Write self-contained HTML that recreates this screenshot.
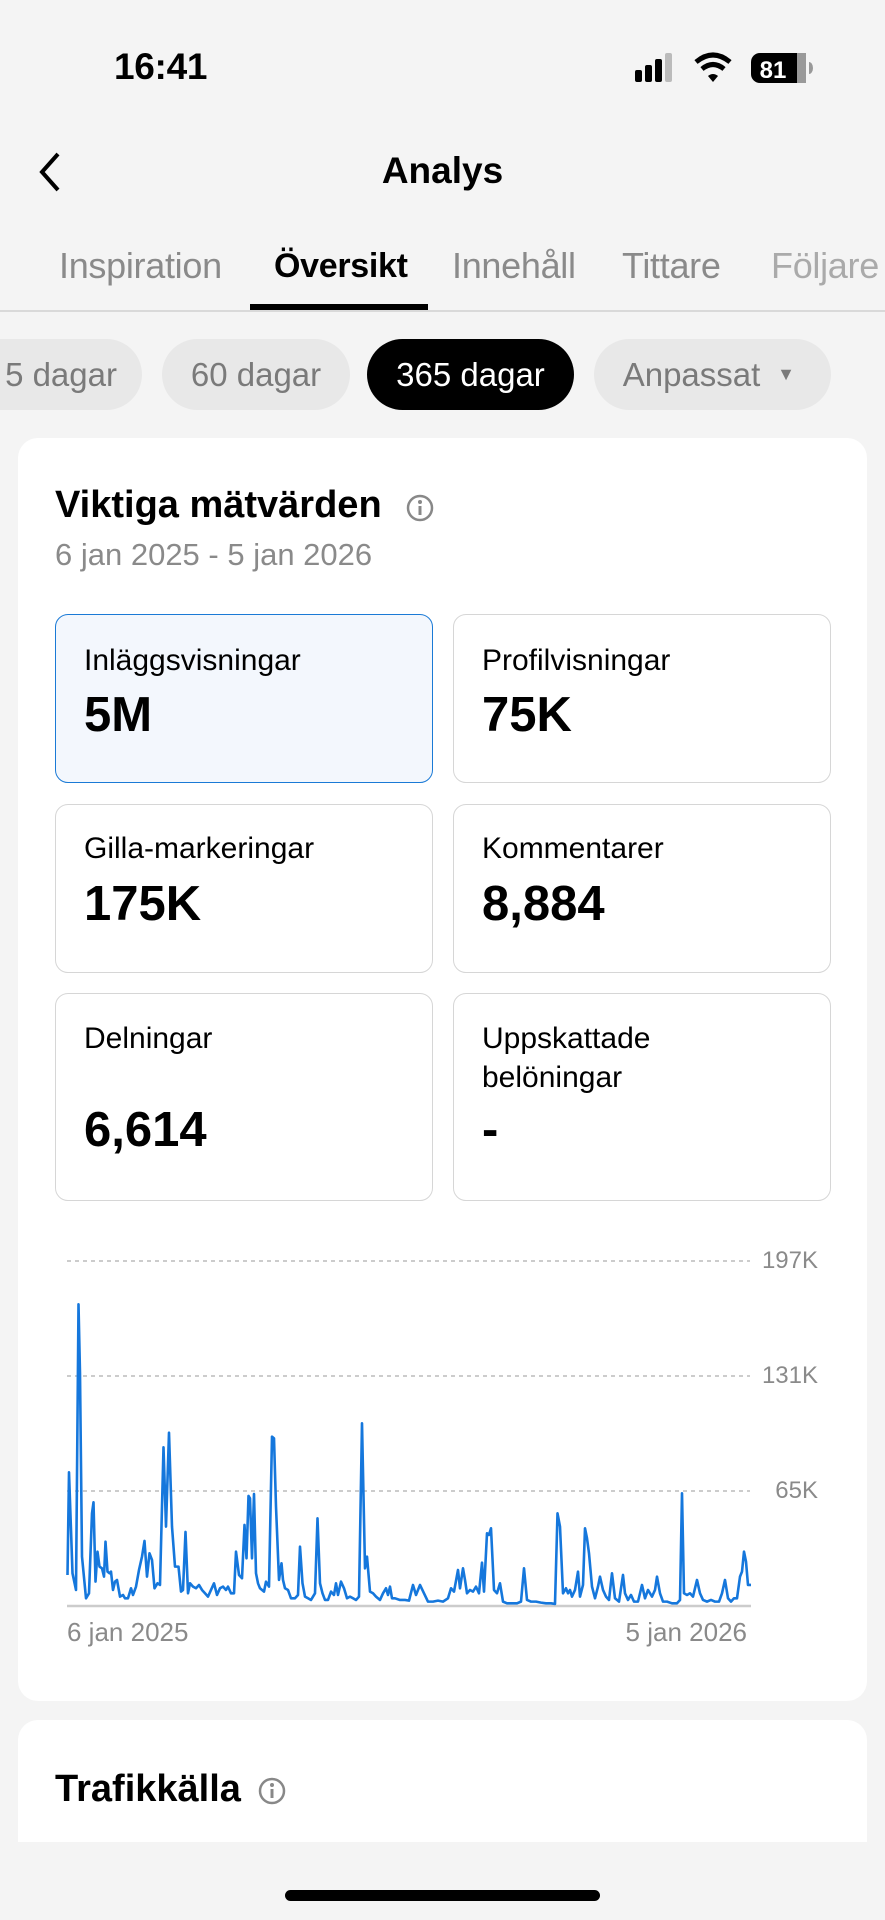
<!DOCTYPE html>
<html><head><meta charset="utf-8"><style>
*{margin:0;padding:0;box-sizing:border-box}
body{width:885px;height:1920px;background:#f4f4f4;font-family:"Liberation Sans",sans-serif;position:relative;overflow:hidden;color:#000}
.a{position:absolute;white-space:nowrap}
.tab{position:absolute;top:246px;font-size:36px;color:#8a8a8a;line-height:40px;letter-spacing:-0.3px}
.pill{position:absolute;top:339px;height:71px;border-radius:36px;background:#e8e8e8;color:#7a7a7a;font-size:33px;line-height:71px;text-align:center}
.box{position:absolute;width:378px;border:1.5px solid #d6d6d6;border-radius:13px;background:#fff}
.lab{position:absolute;left:28px;font-size:30px;line-height:36px}
.val{position:absolute;left:28px;font-size:49px;font-weight:bold;line-height:54px}
.yl{position:absolute;font-size:24px;color:#8a8a8a;right:67px}
</style></head><body>
<div class="a" style="left:114px;top:46px;font-size:37px;font-weight:bold;letter-spacing:-0.3px">16:41</div>
<svg class="a" style="left:630px;top:50px" width="190" height="36">
<rect x="5" y="20" width="7" height="12" rx="2"/><rect x="15" y="15" width="7" height="17" rx="2"/><rect x="25" y="9" width="7" height="23" rx="2"/><rect x="35" y="3" width="7" height="29" rx="2" fill="#bbb"/>
<path d="M66 12 Q83 -2 100 12" stroke="#000" stroke-width="5" fill="none"/><path d="M72 19 Q83 10 94 19" stroke="#000" stroke-width="5" fill="none"/><path d="M78 26 L83 32 L88 26 Q83 22 78 26Z"/>
<rect x="121" y="3" width="55" height="30" rx="9"/><rect x="167" y="3" width="9" height="30" fill="#999"/><path d="M179 12 a4 6 0 0 1 0 12z" fill="#999"/>
<text x="143" y="28" font-size="24" font-weight="bold" fill="#fff" text-anchor="middle" font-family="Liberation Sans">81</text></svg>
<svg class="a" style="left:34px;top:150px" width="30" height="44"><path d="M24 4 L8 22 L24 40" stroke="#000" stroke-width="4" fill="none"/></svg>
<div class="a" style="left:0;width:885px;text-align:center;top:150px;font-size:37px;font-weight:bold">Analys</div>
<div class="tab" style="left:59px">Inspiration</div>
<div class="tab" style="left:274px;color:#000;font-weight:bold;font-size:34px">Översikt</div>
<div class="tab" style="left:452px">Innehåll</div>
<div class="tab" style="left:622px">Tittare</div>
<div class="tab" style="left:771px;color:#aaa">Följare</div>
<div class="a" style="left:250px;top:304px;width:178px;height:6px;background:#000"></div>
<div class="a" style="left:0;top:310px;width:885px;height:1.5px;background:#d9d9d9"></div>
<div class="pill" style="left:-60px;width:202px;text-align:right;padding-right:25px">5 dagar</div>
<div class="pill" style="left:162px;width:188px">60 dagar</div>
<div class="pill" style="left:367px;width:207px;background:#000;color:#fff">365 dagar</div>
<div class="pill" style="left:594px;width:237px;padding-right:42px">Anpassat<span style="position:absolute;right:36px;font-size:18px">▼</span></div>
<div class="a" style="left:18px;top:438px;width:849px;height:1263px;background:#fff;border-radius:20px"></div>
<div class="a" style="left:55px;top:484px;font-size:38px;font-weight:bold">Viktiga mätvärden</div>
<svg class="a" style="left:405px;top:493px" width="30" height="30"><circle cx="15" cy="15" r="12" stroke="#888" stroke-width="2.5" fill="none"/><rect x="13.5" y="13" width="3" height="9" fill="#888"/><circle cx="15" cy="9" r="2" fill="#888"/></svg>
<div class="a" style="left:55px;top:537px;font-size:31px;color:#8a8a8a">6 jan 2025 - 5 jan 2026</div>
<div class="box" style="left:55px;top:614px;height:169px;background:#f3f7fd;border-color:#1a7ad6"><div class="lab" style="top:28px">Inläggsvisningar</div><div class="val" style="top:73px">5M</div></div>
<div class="box" style="left:453px;top:614px;height:169px"><div class="lab" style="top:28px">Profilvisningar</div><div class="val" style="top:73px">75K</div></div>
<div class="box" style="left:55px;top:804px;height:169px"><div class="lab" style="top:26px">Gilla-markeringar</div><div class="val" style="top:72px">175K</div></div>
<div class="box" style="left:453px;top:804px;height:169px"><div class="lab" style="top:26px">Kommentarer</div><div class="val" style="top:72px">8,884</div></div>
<div class="box" style="left:55px;top:993px;height:208px"><div class="lab" style="top:27px">Delningar</div><div class="val" style="top:109px">6,614</div></div>
<div class="box" style="left:453px;top:993px;height:208px"><div class="lab" style="top:25px;line-height:39px">Uppskattade<br>belöningar</div><div class="val" style="top:109px">-</div></div>
<svg class="a" style="left:0;top:0" width="885" height="1920">
<g stroke="#bbb" stroke-width="1.5" stroke-dasharray="4,4"><line x1="67" y1="1261" x2="750" y2="1261"/><line x1="67" y1="1376" x2="750" y2="1376"/><line x1="67" y1="1491" x2="750" y2="1491"/></g>
<line x1="67" y1="1606" x2="751" y2="1606" stroke="#ccc" stroke-width="2.5"/>
<g transform="translate(50,1240) scale(0.5,0.3333)"><polyline vector-effect="non-scaling-stroke" fill="none" stroke="#1577dc" stroke-width="2.6" stroke-linejoin="round" points="35,1005 38,697 45,1000 52,1050 57,193 60,400 64,950 72,1075 78,1060 84,820 87,787 91,1025 95,935 99,980 104,985 108,1010 111,905 115,995 119,1000 122,995 126,1050 130,1025 134,1020 140,1070 146,1065 150,1075 156,1075 162,1045 166,1065 172,1040 178,990 184,950 189,903 194,1010 199,940 204,960 209,1045 215,1030 220,1035 227,622 232,860 238,578 244,860 250,980 257,980 262,1055 266,1050 271,876 276,1060 280,1030 286,1040 292,1045 298,1035 304,1050 310,1060 316,1070 322,1050 328,1030 334,1065 340,1045 346,1040 352,1050 356,1040 362,1060 368,1060 372,935 378,1005 384,1015 389,855 393,955 397,768 400,775 404,955 408,762 412,1000 416,1030 420,1045 428,1055 432,1025 438,1040 444,590 448,595 452,800 458,1020 463,970 466,1020 470,1045 476,1050 482,1075 490,1075 496,1065 500,920 505,1030 510,1070 516,1075 522,1080 530,1060 535,835 540,1030 545,1060 550,1080 556,1080 562,1055 568,1065 572,1030 576,1065 582,1025 588,1045 594,1075 600,1070 606,1075 612,1080 618,1070 624,550 630,985 634,950 640,1055 646,1060 652,1070 660,1080 666,1060 672,1045 676,1065 680,1040 684,1075 690,1075 700,1080 710,1080 718,1082 726,1035 732,1065 740,1035 748,1060 756,1085 766,1085 776,1082 786,1085 796,1075 802,1045 808,1055 816,990 820,1045 826,985 830,1020 834,1060 840,1050 846,1055 852,1040 858,1060 864,968 868,1055 874,880 878,885 882,865 888,1050 894,1060 900,1030 906,1085 914,1090 924,1090 934,1090 942,1085 948,985 954,1080 962,1085 972,1085 982,1088 992,1090 1002,1090 1010,1092 1015,820 1020,860 1026,1060 1032,1045 1036,1060 1040,1050 1044,1070 1050,1050 1056,995 1060,1070 1066,1035 1070,865 1074,895 1078,940 1084,1040 1090,1075 1096,1040 1100,1010 1106,1050 1112,1070 1118,1080 1124,1000 1130,1075 1138,1085 1146,1005 1150,1060 1156,1080 1162,1065 1168,1085 1176,1085 1184,1035 1190,1075 1196,1050 1204,1070 1210,1050 1214,1010 1220,1060 1226,1085 1234,1085 1244,1090 1254,1090 1260,1080 1264,760 1268,1060 1274,1065 1280,1060 1286,1070 1294,1020 1300,1060 1306,1080 1314,1085 1322,1080 1330,1085 1338,1085 1344,1060 1350,1020 1356,1075 1362,1085 1368,1075 1374,1075 1380,1010 1384,995 1388,935 1392,965 1396,1035 1402,1035"/></g>
</svg>
<div class="yl" style="top:1247px">197K</div>
<div class="yl" style="top:1362px">131K</div>
<div class="yl" style="top:1477px">65K</div>
<div class="a" style="left:67px;top:1617px;font-size:26px;color:#8a8a8a">6 jan 2025</div>
<div class="a" style="right:138px;top:1617px;font-size:26px;color:#8a8a8a">5 jan 2026</div>
<div class="a" style="left:18px;top:1720px;width:849px;height:122px;background:#fff;border-radius:20px 20px 0 0"></div>
<div class="a" style="left:55px;top:1768px;font-size:38px;font-weight:bold">Trafikkälla</div>
<svg class="a" style="left:257px;top:1776px" width="30" height="30"><circle cx="15" cy="15" r="12" stroke="#888" stroke-width="2.5" fill="none"/><rect x="13.5" y="13" width="3" height="9" fill="#888"/><circle cx="15" cy="9" r="2" fill="#888"/></svg>
<div class="a" style="left:285px;top:1890px;width:315px;height:11px;border-radius:6px;background:#000"></div>
</body></html>
